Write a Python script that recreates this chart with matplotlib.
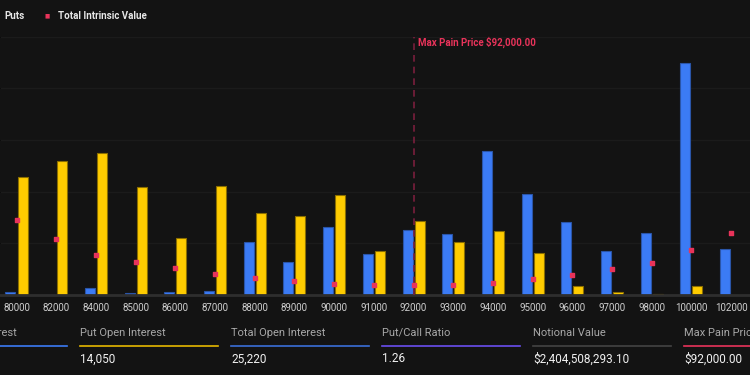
import numpy as np
import matplotlib.pyplot as plt

plt.rcParams['font.family'] = ['Roboto', 'DejaVu Sans']

# Datos (open interest por strike)
strikes = ["80000", "82000", "84000", "85000", "86000", "87000", "88000", "89000", "90000",
           "91000", "92000", "93000", "94000", "95000", "96000", "97000", "98000", "100000", "102000"]
calls = [35, 0, 80, 25, 35, 45, 615, 385, 790, 475, 755, 710, 1670, 1170, 845, 510, 720, 2690, 535]
puts = [1370, 1555, 1650, 1255, 660, 1265, 950, 915, 1160, 510, 860, 615, 745, 485, 105, 35, 12, 105, 0]
intrinsic = [15.0, 11.2, 8.0, 6.6, 5.4, 4.2, 3.4, 2.8, 2.2, 2.0, 2.0, 2.0, 2.4, 3.2, 4.0, 5.2, 6.4, 9.0, 12.4]
max_pain = "92000"

stat_labels = ["Call Open Interest", "Put Open Interest", "Total Open Interest",
               "Put/Call Ratio", "Notional Value", "Max Pain Price"]
stat_values = ["11,170", "14,050", "25,220", "1.26", "$2,404,508,293.10", "$92,000.00"]
stat_colors = ["#3b7bf5", "#e6b800", "#3a6fd8", "#6a4ff0", "#444444", "#e8335a"]

bg = "#131313"
blue = "#3b7bf5"
yellow = "#ffcc00"
red = "#e8335a"

W, H = 750, 375
fig = plt.figure(figsize=(7.5, 3.75), dpi=100, facecolor=bg)

# ejes principales: x en pixeles -> indices
step = 39.7
x0 = 16.5
bottom_px, top_px = 295, 36.5
ax = fig.add_axes([0, 1 - bottom_px / H, 1, (bottom_px - top_px) / H])
ax.set_facecolor(bg)
x = np.arange(len(strikes))
ax.set_xlim(-x0 / step, (W - x0) / step)
ax.set_ylim(0, 3000)

bw = 10 / step
ax.bar(x - 6 / step, calls, width=bw, color=blue, edgecolor="#2a55a8", linewidth=0.8, zorder=2)
ax.bar(x + 6 / step, puts, width=bw, color=yellow, edgecolor="#8a6e00", linewidth=0.8, zorder=2)

ax.set_yticks(np.arange(0, 3001, 600))
ax.grid(axis="y", color="#1b1b1b", linewidth=1, zorder=0)
ax.tick_params(axis="y", left=False, labelleft=False)
ax.set_xticks(x)
ax.set_xticklabels(strikes, color="#cfcfcf", fontsize=7)
ax.tick_params(axis="x", length=0, pad=6)
for s in ["top", "right", "left"]:
    ax.spines[s].set_visible(False)
ax.spines["bottom"].set_color("#2e2e2e")
ax.spines["bottom"].set_linewidth(2)

# linea de max pain
mp = strikes.index(max_pain)
ax.axvline(mp, color="#7a1f3d", linestyle=(0, (4, 3)), linewidth=1.2, zorder=3)
ax.text(mp + 4 / step, 2930, "Max Pain Price $92,000.00", color=red, fontsize=7,
        fontweight="bold", va="center", ha="left")

# valor intrinseco en eje secundario
ax2 = ax.twinx()
ax2.set_ylim(0, 3000 / 11.6 * 0.2)
ax2.scatter(x, intrinsic, marker="s", s=5, color=red, zorder=4)
ax2.axis("off")

# leyenda superior (recortada)
fig.text(4 / W, 1 - 16 / H, "Puts", color="#e6e6e6", fontsize=7, fontweight="bold", va="center")
fig.text(47 / W, 1 - 16 / H, "■", color=red, fontsize=4, va="center", ha="center")
fig.text(58 / W, 1 - 16 / H, "Total Intrinsic Value", color="#e6e6e6", fontsize=7,
         fontweight="bold", va="center")

# tarjetas de estadisticas
col0 = -71
for i, (lab, val, c) in enumerate(zip(stat_labels, stat_values, stat_colors)):
    xs = col0 + 151 * i
    fig.text(xs / W, 1 - 333 / H, lab, color="#a8a8a8", fontsize=8, va="center", ha="left")
    fig.add_artist(plt.Line2D([xs / W, (xs + 138) / W], [1 - 346 / H, 1 - 346 / H],
                              color=c, linewidth=1.2))
    fig.text(xs / W, 1 - 359 / H, val, color="#f0f0f0", fontsize=8.5, va="center", ha="left")

plt.savefig("out.png", dpi=100, facecolor=bg)
